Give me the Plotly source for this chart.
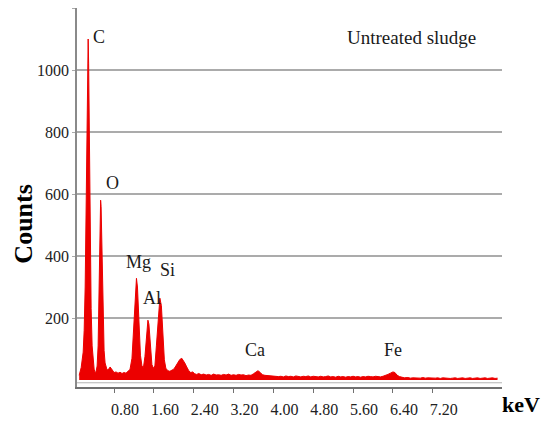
import plotly.graph_objects as go

# ---- spectrum (energy in keV, counts) ----
energy_kev = [
    0.10, 0.14, 0.18, 0.20, 0.22, 0.24, 0.26, 0.27, 0.28, 0.29, 0.30, 0.32, 0.34, 0.36, 0.38, 0.40,
    0.42, 0.44, 0.46, 0.48, 0.50, 0.52, 0.53, 0.54, 0.56, 0.58, 0.60, 0.62, 0.64, 0.66, 0.70, 0.72,
    0.74, 0.77, 0.80, 0.84, 0.88, 0.92, 0.96, 1.00, 1.04, 1.08, 1.12, 1.16, 1.20, 1.23, 1.25, 1.27,
    1.30, 1.33, 1.36, 1.39, 1.42, 1.45, 1.48, 1.50, 1.53, 1.56, 1.59, 1.62, 1.65, 1.69, 1.72, 1.75,
    1.78, 1.81, 1.84, 1.88, 1.92, 1.96, 2.00, 2.04, 2.08, 2.12, 2.16, 2.19, 2.22, 2.26, 2.30, 2.34,
    2.38, 2.42, 2.46, 2.50, 2.55, 2.60, 2.65, 2.70, 2.75, 2.80, 2.85, 2.90, 2.95, 3.00, 3.05, 3.10,
    3.15, 3.20, 3.25, 3.30, 3.35, 3.40, 3.45, 3.50, 3.55, 3.60, 3.65, 3.69, 3.73, 3.78, 3.83, 3.88,
    3.93, 3.98, 4.05, 4.10, 4.15, 4.20, 4.25, 4.30, 4.35, 4.40, 4.45, 4.50, 4.55, 4.60, 4.65, 4.70,
    4.75, 4.80, 4.85, 4.90, 4.95, 5.00, 5.05, 5.10, 5.15, 5.20, 5.25, 5.30, 5.35, 5.40, 5.45, 5.50,
    5.55, 5.60, 5.65, 5.70, 5.75, 5.80, 5.85, 5.90, 5.95, 6.00, 6.05, 6.10, 6.15, 6.20, 6.25, 6.30,
    6.35, 6.40, 6.44, 6.48, 6.53, 6.58, 6.63, 6.70, 6.75, 6.80, 6.85, 6.90, 6.95, 7.00, 7.05, 7.10,
    7.15, 7.20, 7.25, 7.30, 7.35, 7.40, 7.45, 7.50, 7.55, 7.60, 7.65, 7.70, 7.75, 7.80, 7.85, 7.90,
    7.95, 8.00, 8.05, 8.10, 8.15, 8.20, 8.25, 8.30, 8.35, 8.40, 8.45, 8.50,
]
counts = [
    15, 40, 90, 160, 300, 560, 900, 1060, 1100, 1020, 820, 480, 230, 110, 60, 35,
    24, 28, 45, 110, 300, 520, 580, 560, 380, 190, 95, 55, 38, 32, 36, 42,
    38, 30, 24, 26, 22, 25, 21, 24, 22, 28, 34, 70, 180, 290, 328, 300,
    170, 80, 45, 40, 75, 150, 193, 180, 100, 50, 38, 45, 110, 220, 264, 240,
    140, 65, 38, 30, 28, 32, 35, 45, 58, 66, 70, 64, 55, 42, 30, 24,
    26, 20, 18, 21, 17, 19, 16, 18, 15, 19, 16, 17, 15, 18, 16, 19,
    15, 17, 15, 18, 16, 17, 14, 16, 15, 20, 27, 30, 25, 17, 15, 14,
    14, 12, 13, 11, 12, 10, 13, 11, 12, 10, 13, 11, 10, 12, 11, 13,
    10, 12, 11, 10, 12, 10, 11, 13, 10, 11, 9, 12, 10, 11, 9, 11,
    10, 12, 10, 11, 9, 11, 10, 12, 11, 10, 12, 11, 10, 12, 14, 18,
    22, 26, 24, 16, 11, 8, 7, 8, 6, 7, 6, 7, 6, 8, 6, 7,
    6, 7, 6, 7, 5, 7, 6, 7, 5, 6, 7, 5, 6, 7, 5, 6,
    7, 5, 6, 7, 5, 6, 7, 5, 6, 7, 5, 6,
]

# tick labels
x_tick_values = [0.8, 1.6, 2.4, 3.2, 4.0, 4.8, 5.6, 6.4, 7.2]
x_tick_labels = ["0.80", "1.60", "2.40", "3.20", "4.00", "4.80", "5.60", "6.40", "7.20"]
y_tick_values = [200, 400, 600, 800, 1000, 1200]
y_tick_labels = ["200", "400", "600", "800", "1000", ""]

# element labels: (text, energy, counts)
element_names = ["C", "O", "Mg", "Al", "Si", "Ca", "Fe"]
element_x = [0.50, 0.76, 1.30, 1.56, 1.88, 3.63, 6.40]
element_y = [1107, 637, 380, 264, 354, 97, 97]

SERIF = "Liberation Serif, Times New Roman, serif"
RED = "rgb(236,0,0)"

fig = go.Figure()
fig.add_trace(go.Scatter(
    x=energy_kev, y=counts, mode="lines",
    line=dict(color=RED, width=1),
    fill="tozeroy", fillcolor=RED,
    showlegend=False, hoverinfo="skip", cliponaxis=False,
))

annotations = []
for name, ex, ey in zip(element_names, element_x, element_y):
    annotations.append(dict(x=ex, y=ey, xref="x", yref="y", text=name, showarrow=False,
                            font=dict(family=SERIF, size=18, color="#1a1a1a"),
                            xanchor="center", yanchor="middle"))
annotations.append(dict(x=6.78, y=1104, xref="x", yref="y", text="Untreated sludge",
                        showarrow=False, font=dict(family=SERIF, size=19, color="#1a1a1a"),
                        xanchor="center", yanchor="middle"))
annotations.append(dict(x=-0.128, y=0.43, xref="paper", yref="paper", text="<b>Counts</b>",
                        textangle=-90, showarrow=False,
                        font=dict(family=SERIF, size=26, color="#000"),
                        xanchor="center", yanchor="middle"))
annotations.append(dict(x=1.044, y=-0.045, xref="paper", yref="paper", text="<b>keV</b>",
                        showarrow=False, font=dict(family=SERIF, size=22, color="#000"),
                        xanchor="center", yanchor="middle"))

# the page has an 8 px body margin, so the figure is drawn 8 px smaller and shifted
fig.update_layout(
    width=544, height=413,
    margin=dict(l=69, r=50, t=0, b=34),
    paper_bgcolor="white", plot_bgcolor="white",
    annotations=annotations,
    shapes=[dict(type="line", xref="paper", yref="y", x0=0, x1=1, y0=-9, y1=-9,
                 line=dict(color="#b5b5b5", width=1))],
    xaxis=dict(
        range=[0.056, 8.59], tickvals=x_tick_values, ticktext=x_tick_labels,
        showgrid=False, zeroline=False, showline=True, linecolor="#707070", linewidth=1.5,
        ticks="outside", ticklen=4, tickcolor="#707070",
        tickfont=dict(family=SERIF, size=16, color="#222"),
        ticklabelshift=11, ticklabelstandoff=3,
    ),
    yaxis=dict(
        range=[-22.6, 1200], tickvals=y_tick_values, ticktext=y_tick_labels,
        showgrid=True, gridcolor="#ababab", gridwidth=1.5, zeroline=False,
        showline=True, linecolor="#8a8a8a", linewidth=1.5,
        ticks="outside", ticklen=3, tickcolor="#aaaaaa",
        tickfont=dict(family=SERIF, size=16, color="#222"),
    ),
)

fig.write_html("out.html")
